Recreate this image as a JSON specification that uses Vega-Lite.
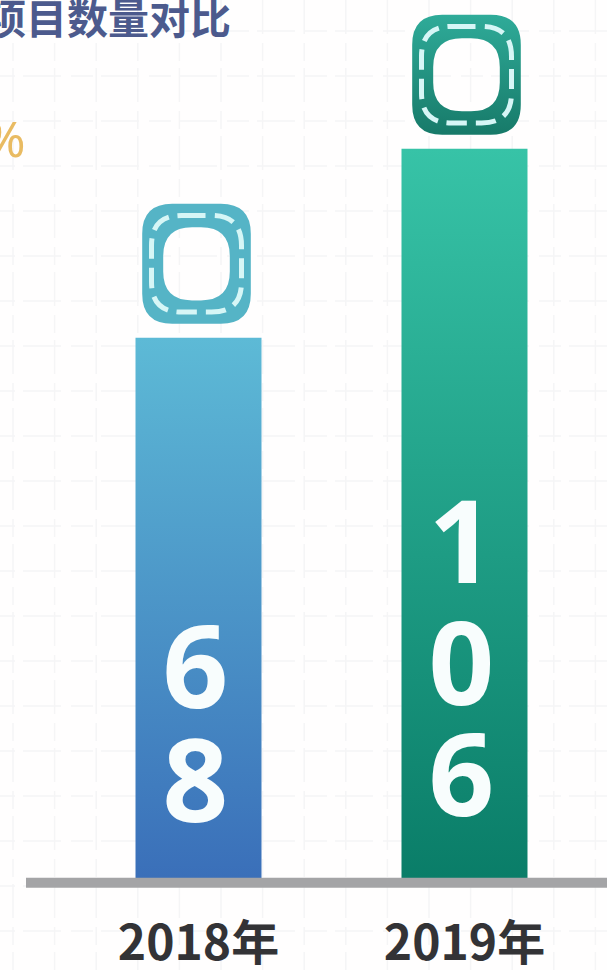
{
  "$schema": "https://vega.github.io/schema/vega-lite/v6.json",
  "width": 607,
  "height": 970,
  "padding": 0,
  "autosize": {"type": "none"},
  "background": "#fffefe",
  "view": {"stroke": null},
  "datasets": {
    "projects": [
      {"year": "2018年", "value": 68, "labelRow": 19.33},
      {"year": "2019年", "value": 106, "labelRow": 19.33}
    ],
    "digits": [
      {"year": "2018年", "digit": "6", "row": 13.26},
      {"year": "2018年", "digit": "8", "row": 15.79},
      {"year": "2019年", "digit": "1", "row": 10.48},
      {"year": "2019年", "digit": "0", "row": 13.19},
      {"year": "2019年", "digit": "6", "row": 15.67}
    ],
    "gridCols": [{"col":0},{"col":1},{"col":2},{"col":3},{"col":4},{"col":5},{"col":6},{"col":7},{"col":8},{"col":9},{"col":10},{"col":11},{"col":12},{"col":13},{"col":14}],
    "gridRows": [{"row":-1},{"row":0},{"row":1},{"row":2},{"row":3},{"row":4},{"row":5},{"row":6},{"row":7},{"row":8},{"row":9},{"row":10},{"row":11},{"row":12},{"row":13},{"row":14},{"row":15},{"row":16},{"row":17},{"row":18},{"row":19}],
    "baseline": [{"from": 0.3125, "to": 14.279, "row": 17.93}],
    "notes": [
      {"label": "项目数量对比", "col": 5.24, "row": -1.2, "kind": "title"},
      {"label": "%", "col": 0.3, "row": 1.47, "kind": "percent"}
    ]
  },
  "resolve": {"scale": {"x": "independent", "y": "independent", "color": "independent"}},
  "layer": [
    {
      "data": {"name": "gridCols"},
      "mark": {"type": "rule", "stroke": "#f5f5f6", "strokeWidth": 1.5, "strokeDash": [34, 9, 18, 7]},
      "encoding": {
        "x": {"field": "col", "type": "quantitative", "axis": null, "scale": {"domain": [-0.3125, 14.279], "range": [0, 607], "nice": false, "zero": false}}
      }
    },
    {
      "data": {"name": "gridRows"},
      "mark": {"type": "rule", "stroke": "#f5f5f6", "strokeWidth": 1.5, "strokeDash": [38, 8, 22, 10]},
      "encoding": {
        "y": {"field": "row", "type": "quantitative", "axis": null, "scale": {"domain": [-1.689, 19.867], "range": [0, 970], "nice": false, "zero": false}}
      }
    },
    {
      "data": {"name": "projects"},
      "transform": [{"filter": "datum.year === '2018年'"}],
      "mark": {
        "type": "bar",
        "fill": {"gradient": "linear", "x1": 1, "x2": 1, "y1": 0, "y2": 1, "stops": [{"offset": 0, "color": "#5dbad6"}, {"offset": 1, "color": "#3a6fb9"}]}
      },
      "encoding": {
        "x": {"field": "year", "type": "nominal", "axis": null, "scale": {"type": "band", "domain": ["2018年", "2019年"], "range": [65.5, 597.5], "paddingInner": 0.5263, "paddingOuter": 0.2632}},
        "y": {"field": "value", "type": "quantitative", "axis": null, "scale": {"type": "pow", "exponent": 0.675, "domain": [0, 139.5], "range": [879, 0], "nice": false}}
      }
    },
    {
      "data": {"name": "projects"},
      "transform": [{"filter": "datum.year === '2019年'"}],
      "mark": {
        "type": "bar",
        "fill": {"gradient": "linear", "x1": 1, "x2": 1, "y1": 0, "y2": 1, "stops": [{"offset": 0, "color": "#37c3a7"}, {"offset": 1, "color": "#0a7d68"}]}
      },
      "encoding": {
        "x": {"field": "year", "type": "nominal", "axis": null, "scale": {"type": "band", "domain": ["2018年", "2019年"], "range": [65.5, 597.5], "paddingInner": 0.5263, "paddingOuter": 0.2632}},
        "y": {"field": "value", "type": "quantitative", "axis": null, "scale": {"type": "pow", "exponent": 0.675, "domain": [0, 139.5], "range": [879, 0], "nice": false}}
      }
    },
    {
      "data": {"name": "baseline"},
      "mark": {"type": "rule", "stroke": "#a4a4a6", "strokeWidth": 10},
      "encoding": {
        "x": {"field": "from", "type": "quantitative", "axis": null, "scale": {"domain": [-0.3125, 14.279], "range": [0, 607], "nice": false, "zero": false}},
        "x2": {"field": "to"},
        "y": {"field": "row", "type": "quantitative", "axis": null, "scale": {"domain": [-1.689, 19.867], "range": [0, 970], "nice": false, "zero": false}}
      }
    },
    {
      "data": {"name": "digits"},
      "mark": {"type": "text", "font": "Noto Sans", "fontWeight": "bold", "fontSize": 115, "fill": "#f8fdfd", "baseline": "middle", "align": "center", "xOffset": -3},
      "encoding": {
        "x": {"field": "year", "type": "nominal", "axis": null, "scale": {"type": "band", "domain": ["2018年", "2019年"], "range": [65.5, 597.5], "paddingInner": 0.5263, "paddingOuter": 0.2632}},
        "y": {"field": "row", "type": "quantitative", "axis": null, "scale": {"domain": [-1.689, 19.867], "range": [0, 970], "nice": false, "zero": false}},
        "text": {"field": "digit"}
      }
    },
    {
      "data": {"name": "projects"},
      "mark": {"type": "text", "font": "Noto Sans CJK SC", "fontWeight": "bold", "fontSize": 48, "fill": "#333336", "baseline": "middle", "align": "center"},
      "encoding": {
        "x": {"field": "year", "type": "nominal", "axis": null, "scale": {"type": "band", "domain": ["2018年", "2019年"], "range": [65.5, 597.5], "paddingInner": 0.5263, "paddingOuter": 0.2632}},
        "y": {"field": "labelRow", "type": "quantitative", "axis": null, "scale": {"domain": [-1.689, 19.867], "range": [0, 970], "nice": false, "zero": false}},
        "text": {"field": "year"}
      }
    },
    {
      "data": {"name": "projects"},
      "transform": [{"filter": "datum.year === '2018年'"}],
      "mark": {
        "type": "point", "filled": true, "opacity": 1, "size": 14400, "yOffset": -74, "xOffset": -2,
        "shape": "M -.405 -1 L .405 -1 Q .905 -1 .905 -.5 L .905 .5 Q .905 1 .405 1 L -.405 1 Q -.905 1 -.905 .5 L -.905 -.5 Q -.905 -1 -.405 -1 Z M -.075 -.61 Q -.555 -.61 -.555 -.13 L -.555 .13 Q -.555 .61 -.075 .61 L .075 .61 Q .555 .61 .555 .13 L .555 -.13 Q .555 -.61 .075 -.61 Z",
        "fill": "#55b4c6"
      },
      "encoding": {
        "x": {"field": "year", "type": "nominal", "axis": null, "scale": {"type": "band", "domain": ["2018年", "2019年"], "range": [65.5, 597.5], "paddingInner": 0.5263, "paddingOuter": 0.2632}},
        "y": {"field": "value", "type": "quantitative", "axis": null, "scale": {"type": "pow", "exponent": 0.675, "domain": [0, 139.5], "range": [879, 0], "nice": false}}
      }
    },
    {
      "data": {"name": "projects"},
      "transform": [{"filter": "datum.year === '2019年'"}],
      "mark": {
        "type": "point", "filled": true, "opacity": 1, "size": 14400, "yOffset": -74, "xOffset": 2,
        "shape": "M -.405 -1 L .405 -1 Q .905 -1 .905 -.5 L .905 .5 Q .905 1 .405 1 L -.405 1 Q -.905 1 -.905 .5 L -.905 -.5 Q -.905 -1 -.405 -1 Z M -.075 -.61 Q -.555 -.61 -.555 -.13 L -.555 .13 Q -.555 .61 -.075 .61 L .075 .61 Q .555 .61 .555 .13 L .555 -.13 Q .555 -.61 .075 -.61 Z",
        "fill": {"gradient": "linear", "x1": 1, "x2": 1, "y1": 0, "y2": 1, "stops": [{"offset": 0, "color": "#2fab99"}, {"offset": 1, "color": "#177a69"}]}
      },
      "encoding": {
        "x": {"field": "year", "type": "nominal", "axis": null, "scale": {"type": "band", "domain": ["2018年", "2019年"], "range": [65.5, 597.5], "paddingInner": 0.5263, "paddingOuter": 0.2632}},
        "y": {"field": "value", "type": "quantitative", "axis": null, "scale": {"type": "pow", "exponent": 0.675, "domain": [0, 139.5], "range": [879, 0], "nice": false}}
      }
    },
    {
      "data": {"name": "projects"},
      "transform": [{"filter": "datum.year === '2018年'"}],
      "mark": {
        "type": "point", "filled": false, "opacity": 1, "size": 14400, "yOffset": -74, "xOffset": -2,
        "shape": "M -.183 -.805 L .25 -.805 Q .75 -.805 .75 -.305 L .75 .305 Q .75 .805 .25 .805 L -.25 .805 Q -.75 .805 -.75 .305 L -.75 -.305 Q -.75 -.805 -.25 -.805 Z",
        "stroke": "#d6f6f6", "strokeWidth": 5, "strokeDash": [20, 9]
      },
      "encoding": {
        "x": {"field": "year", "type": "nominal", "axis": null, "scale": {"type": "band", "domain": ["2018年", "2019年"], "range": [65.5, 597.5], "paddingInner": 0.5263, "paddingOuter": 0.2632}},
        "y": {"field": "value", "type": "quantitative", "axis": null, "scale": {"type": "pow", "exponent": 0.675, "domain": [0, 139.5], "range": [879, 0], "nice": false}}
      }
    },
    {
      "data": {"name": "projects"},
      "transform": [{"filter": "datum.year === '2019年'"}],
      "mark": {
        "type": "point", "filled": false, "opacity": 1, "size": 14400, "yOffset": -74, "xOffset": 2,
        "shape": "M -.183 -.805 L .25 -.805 Q .75 -.805 .75 -.305 L .75 .305 Q .75 .805 .25 .805 L -.25 .805 Q -.75 .805 -.75 .305 L -.75 -.305 Q -.75 -.805 -.25 -.805 Z",
        "stroke": "#d6f6f6", "strokeWidth": 5, "strokeDash": [20, 9]
      },
      "encoding": {
        "x": {"field": "year", "type": "nominal", "axis": null, "scale": {"type": "band", "domain": ["2018年", "2019年"], "range": [65.5, 597.5], "paddingInner": 0.5263, "paddingOuter": 0.2632}},
        "y": {"field": "value", "type": "quantitative", "axis": null, "scale": {"type": "pow", "exponent": 0.675, "domain": [0, 139.5], "range": [879, 0], "nice": false}}
      }
    },
    {
      "data": {"name": "notes"},
      "transform": [{"filter": "datum.kind === 'title'"}],
      "mark": {"type": "text", "font": "Noto Sans CJK SC", "fontWeight": "bold", "fontSize": 41, "fill": "#4c5a8d", "align": "right", "baseline": "middle"},
      "encoding": {
        "x": {"field": "col", "type": "quantitative", "axis": null, "scale": {"domain": [-0.3125, 14.279], "range": [0, 607], "nice": false, "zero": false}},
        "y": {"field": "row", "type": "quantitative", "axis": null, "scale": {"domain": [-1.689, 19.867], "range": [0, 970], "nice": false, "zero": false}},
        "text": {"field": "label"}
      }
    },
    {
      "data": {"name": "notes"},
      "transform": [{"filter": "datum.kind === 'percent'"}],
      "mark": {"type": "text", "font": "Noto Sans", "fontSize": 50, "fill": "#e9bb62", "align": "right", "baseline": "middle"},
      "encoding": {
        "x": {"field": "col", "type": "quantitative", "axis": null, "scale": {"domain": [-0.3125, 14.279], "range": [0, 607], "nice": false, "zero": false}},
        "y": {"field": "row", "type": "quantitative", "axis": null, "scale": {"domain": [-1.689, 19.867], "range": [0, 970], "nice": false, "zero": false}},
        "text": {"field": "label"}
      }
    }
  ]
}
